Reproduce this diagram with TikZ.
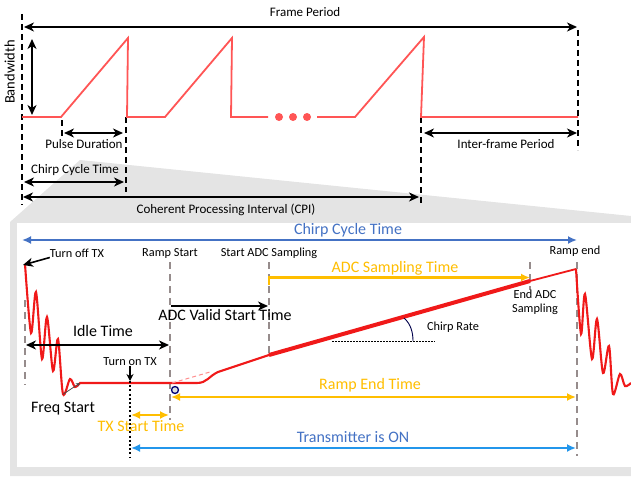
\documentclass[tikz,border=0pt]{standalone}
\usepackage{fontspec}
\setmainfont{Carlito}
\usetikzlibrary{arrows.meta}

\definecolor{sawred}{RGB}{255,85,85}
\definecolor{chirpred}{RGB}{240,25,25}
\definecolor{cycblue}{RGB}{68,114,196}
\definecolor{txblue}{RGB}{35,150,235}
\definecolor{adcyellow}{RGB}{255,190,0}
\definecolor{markgray}{RGB}{150,140,140}
\definecolor{panelgray}{RGB}{228,228,228}

\tikzset{
  toplbl/.style={font=\fontsize{13}{14}\selectfont, inner sep=0pt, text height=0.7em, text depth=0.2em},
  smlbl/.style={font=\fontsize{12.3}{14}\selectfont, inner sep=0pt},
  biglbl/.style={font=\fontsize{16}{17}\selectfont, inner sep=0pt, text height=0.7em, text depth=0.2em},
  blkdim/.style={line width=1.8pt, {Stealth[length=10pt,width=9pt,inset=3pt]}-{Stealth[length=10pt,width=9pt,inset=3pt]}},
  blkarr/.style={line width=1.8pt, -{Stealth[length=10pt,width=9pt,inset=3pt]}},
  colarr/.style={line width=2.2pt, -{Latex[length=9pt,width=8pt]}},
  coldim/.style={line width=2.2pt, {Latex[length=9pt,width=8pt]}-{Latex[length=9pt,width=8pt]}},
  blkmark/.style={line width=1.1pt, dash pattern=on 6pt off 4pt},
  graymark/.style={markgray, line width=1.2pt, dash pattern=on 7pt off 5pt},
}

\begin{document}
\begin{tikzpicture}[x=1pt,y=-1pt]
\useasboundingbox (0,0) rectangle (631,476);

\fill[panelgray] (80,160) -- (631,216) -- (631,476) -- (10,476) -- (10,222) -- cycle;   % 放大区域
\fill[white] (17,223) rectangle (631,467);

% 帧结构
\draw[blkmark] (22,14) -- (22,205);
\draw[blkmark] (62,120) -- (62,140);
\draw[blkmark] (126,117) -- (126,192);
\draw[blkmark] (421,117) -- (421,205);
\draw[blkmark] (578,30) -- (578,150);        % 虚线

\draw[sawred, line width=1.8pt] (22,117) -- (61,117) -- (128,38) -- (127,117) -- (165,117) -- (232,38) -- (231,117) -- (268,117);
\foreach \x in {279,293,307}
  \fill[sawred] (\x,117) circle (4);
\draw[sawred, line width=1.8pt] (317,117) -- (355,117) -- (424,37) -- (421,117) -- (578,117);   % 锯齿波

\node[toplbl] (fp) at (305,14) {Frame Period};
\draw[blkdim] (24,27) coordinate (fpL) -- (577,27) coordinate (fpR);
\node[toplbl, font=\fontsize{14.5}{15}\selectfont, rotate=90] (bw) at (12,72) {Bandwidth};
\draw[blkdim] (32,39) coordinate (bwT) -- (32,115) coordinate (bwB);
\node[toplbl] (pd) at (84,146) {Pulse Duration};
\draw[blkdim] (64,133) coordinate (pdL) -- (123,133) coordinate (pdR);
\node[toplbl] (ifp) at (506,146) {Inter-frame Period};
\draw[blkdim] (424,133) coordinate (ifL) -- (577,133) coordinate (ifR);
\node[toplbl] (cct) at (75,171) {Chirp Cycle Time};
\draw[blkdim] (24,182) coordinate (ccL) -- (124,182) coordinate (ccR);
\node[toplbl] (cpi) at (226,211) {Coherent Processing Interval (CPI)};
\draw[blkdim] (23,197) coordinate (cpL) -- (419,197) coordinate (cpR);   % 标注

% 单个chirp
\draw[graymark] (25,300) -- (25,385);
\draw[graymark] (170,262) -- (170,420);
\draw[graymark] (269,262) -- (269,355);
\draw[graymark] (530,262) -- (530,290);
\draw[graymark] (577,262) -- (577,456);      % 时刻线

\draw[chirpred, line width=2.1pt] plot[smooth, tension=0.5] coordinates {(25,264) (31,333) (36,292) (42,359) (47,317) (53,371) (58,339) (63,394) (70,379) (75,387) (80,383)}
  -- (197,383) .. controls (207,383) and (209,376) .. (218,372) -- (269,355);
\draw[chirpred, line width=4pt] (269,355) -- (530,281);
\draw[chirpred, line width=1.8pt] (530,281) -- (576,269);
\draw[chirpred, line width=2.1pt] plot[smooth, tension=0.5] coordinates {(576,269) (581,334) (585,294) (592,359) (597,319) (603,373) (609,346) (613,394) (620,374) (625,386) (631,383)};
\draw[red!45, line width=1pt, dash pattern=on 4pt off 3pt] (172,383) -- (210,372);
\draw[black!55!blue, line width=1.3pt, fill=gray!25] (175,390) circle (3.5);   % 信号

\draw[line width=0.6pt, dash pattern=on 2pt off 1pt] (332,341) -- (435,341);
\draw[black!70!blue, line width=0.9pt] (404,318) .. controls (411,324) and (413,333) .. (413,341);
\node[smlbl] (rate) at (453,327) {Chirp Rate};   % 斜率

\node[smlbl] (toff) at (77,253) {Turn off TX};
\draw[blkarr, line width=1.6pt] (toff.south west) -- (23,265);
\node[smlbl] (rs) at (170,253) {Ramp Start};
\node[smlbl] (sadc) at (269,253) {Start ADC Sampling};
\node[smlbl] (re) at (575,251) {Ramp end};
\node[smlbl, align=center] (eadc) at (535,302) {End ADC\\Sampling};

\draw[cycblue, coldim, line width=2.4pt] (22,240) coordinate (cyL) -- (577,240) coordinate (cyR);
\node[biglbl, cycblue] (cyc) at (348,232) {Chirp Cycle Time};
\draw[adcyellow, colarr, line width=2.4pt] (269,285) -- (269,277.5) coordinate (asL) -- (530,277.5) coordinate (asR);
\node[biglbl, adcyellow] (ast) at (395,270) {ADC Sampling Time};
\draw[blkarr] (171,306) coordinate (avL) -- (268,306) coordinate (avR);
\node[biglbl] (avst) at (225,318) {ADC Valid Start Time};
\draw[blkdim] (26,345) coordinate (itL) -- (169,345) coordinate (itR);
\node[biglbl] (idle) at (103,334) {Idle Time};
\draw[adcyellow, coldim] (171,397) coordinate (reL) -- (576,397) coordinate (reR);
\node[biglbl, adcyellow] (ret) at (370,387) {Ramp End Time};

\node[smlbl] (ton) at (130,362) {Turn on TX};
\draw[line width=1.6pt, -{Stealth[length=7pt,width=7pt]}] (ton.south) -- (130,381) coordinate (tonP);
\draw[line width=2.4pt, dash pattern=on 2pt off 2.2pt] (tonP) -- (130,457);
\draw[adcyellow, coldim, line width=1.8pt] (131,415) coordinate (tsL) -- (169,415) coordinate (tsR);
\node[biglbl, adcyellow] (tst) at (141,429) {TX Start Time};
\draw[txblue, coldim] (131,448) coordinate (txL) -- (576,448) coordinate (txR);
\node[biglbl, cycblue] (txon) at (353,440) {Transmitter is ON};

\coordinate (fstip) at (80,383);
\node[biglbl] (fs) at (63,410) {Freq Start};
\draw[gray!60!black, line width=0.8pt, -{Stealth[length=4pt,width=4pt]}] (fs.north) ++(0,-11) -- (fstip);
\end{tikzpicture}
\end{document}
